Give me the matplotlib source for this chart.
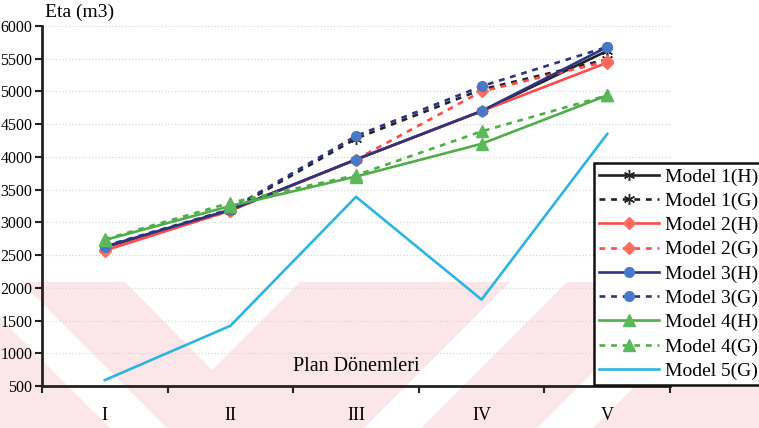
import matplotlib
matplotlib.use("Agg")
import matplotlib.pyplot as plt
from matplotlib.patches import Polygon

# plan periods
periods = ['I', 'II', 'III', 'IV', 'V']

# Eta (m3) per model
m1_h = [2620, 3190, 3960, 4700, 5620]
m1_g = [2600, 3180, 4280, 5030, 5490]
m2_h = [2570, 3180, 3960, 4700, 5440]
m2_g = [2580, 3180, 3960, 5000, 5460]
m3_h = [2630, 3190, 3960, 4700, 5680]
m3_g = [2640, 3200, 4320, 5080, 5680]
m4_h = [2730, 3250, 3700, 4200, 4940]
m4_g = [2740, 3300, 3720, 4390, 4940]
m5_g = [590, 1420, 3390, 1820, 4350]

labels = ['Model 1(H)', 'Model 1(G)', 'Model 2(H)', 'Model 2(G)',
          'Model 3(H)', 'Model 3(G)', 'Model 4(H)', 'Model 4(G)', 'Model 5(G)']

plt.rcParams['font.family'] = ['Liberation Serif', 'DejaVu Serif']

W, H = 759, 428
fig = plt.figure(figsize=(W / 100, H / 100), dpi=100)


def px(pts):
    return [(x / W, 1 - y / H) for x, y in pts]


# faint pink watermark in the background
pink = '#fbe6e9'
fig.patches.append(Polygon(px([(0, 282), (W, 282), (W, H), (0, H)]),
                           closed=True, transform=fig.transFigure,
                           facecolor=pink, edgecolor='none', zorder=-5))
for poly in [
    [(-36, 282), (21, 282), (167, 428), (110, 428)],
    [(125, 282), (300, 282), (212, 370)],
    [(510, 282), (567, 282), (421, 428), (364, 428)],
    [(683, 282), (739, 282), (593, 428), (537, 428)],
]:
    fig.patches.append(Polygon(px(poly), closed=True, transform=fig.transFigure,
                               facecolor='white', edgecolor='none', zorder=-4))

ax = fig.add_axes([42 / W, 1 - 386 / H, (670 - 42) / W, (386 - 26) / H])
ax.set_facecolor('none')

x = list(range(len(periods)))
navy = '#2b3580'
blue = '#4a78c8'
red = '#ff4a4a'
salmon = '#ff6b5a'
green = '#4fae48'
green_m = '#5cb85a'
cyan = '#2cb5e0'
dash = (0, (2.2, 2.2))
star = (6, 2, 0)

styles = [
    (m1_h, dict(color='#222222', ls='-', marker=star, mfc='#222222', mec='#222222', ms=8)),
    (m1_g, dict(color='#222222', ls=dash, marker=star, mfc='#222222', mec='#222222', ms=8)),
    (m2_h, dict(color=red, ls='-', marker='D', mfc=salmon, mec=salmon, ms=6)),
    (m2_g, dict(color=red, ls=dash, marker='D', mfc=salmon, mec=salmon, ms=6)),
    (m3_h, dict(color=navy, ls='-', marker='o', mfc=blue, mec=blue, ms=7)),
    (m3_g, dict(color=navy, ls=dash, marker='o', mfc=blue, mec=blue, ms=7)),
    (m4_h, dict(color=green, ls='-', marker='^', mfc=green_m, mec=green_m, ms=8)),
    (m4_g, dict(color=green, ls=dash, marker='^', mfc=green_m, mec=green_m, ms=8)),
    (m5_g, dict(color=cyan, ls='-', marker=None)),
]

handles = []
for (vals, st), lab in zip(styles, labels):
    ln, = ax.plot(x, vals, lw=1.9, label=lab, zorder=3, **st)
    handles.append(ln)

ax.set_xlim(-0.5, 4.5)
ax.set_ylim(500, 6000)
ax.set_yticks(range(500, 6001, 500))
ax.set_xticks([-0.5, 0.5, 1.5, 2.5, 3.5, 4.5])
ax.set_xticklabels([])
ax.set_xticks(x, minor=True)
ax.set_xticklabels(periods, minor=True, fontsize=13)
ax.tick_params(axis='x', which='minor', length=0, pad=15)
ax.tick_params(axis='x', which='major', direction='out', length=5, width=1.5, color='#222222')
ax.tick_params(axis='y', direction='out', length=5, width=1.5, color='#222222',
               labelsize=11.5, pad=2)

for s in ['top', 'right']:
    ax.spines[s].set_visible(False)
for s in ['left', 'bottom']:
    ax.spines[s].set_linewidth(2)
    ax.spines[s].set_color('#222222')

ax.yaxis.grid(True, color='#d8d8d8', linestyle=':', linewidth=0.9)
ax.set_axisbelow(True)

fig.text(45 / W, 1 - 12 / H, 'Eta (m3)', fontsize=14, ha='left', va='center')
ax.text(2.0, 800, 'Plan Dönemleri', fontsize=14.5, ha='center', va='center')

leg = fig.legend(handles=handles, loc='upper left',
                 bbox_to_anchor=(594 / W, 1 - 163 / H), bbox_transform=fig.transFigure,
                 borderaxespad=0, fontsize=14, handlelength=3.1, handletextpad=0.3,
                 labelspacing=0.34, borderpad=0.25, fancybox=False, framealpha=1)
leg.get_frame().set_edgecolor('#111111')
leg.get_frame().set_linewidth(1.8)

fig.savefig('out.png', dpi=100)
